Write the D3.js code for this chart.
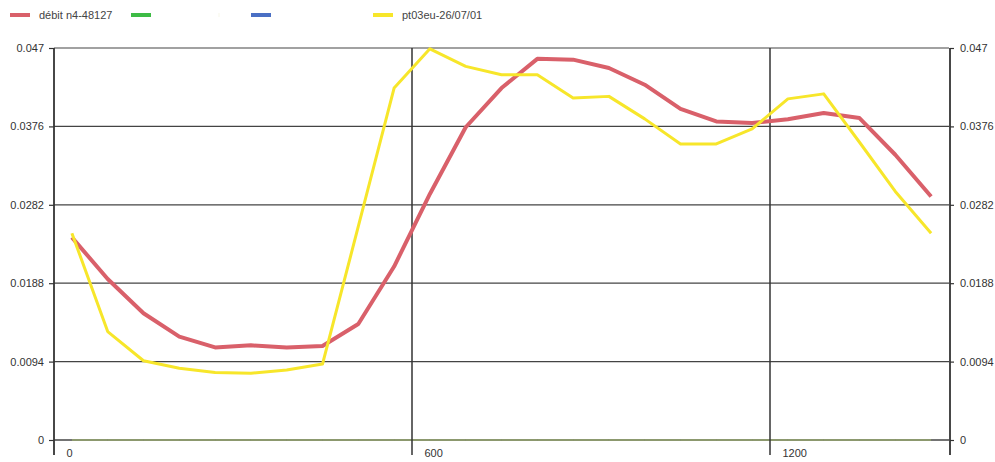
<!DOCTYPE html>
<html><head><meta charset="utf-8">
<script src="https://cdn.jsdelivr.net/npm/d3@7"></script>
<style>
body{margin:0;background:#fff;}
text{font-family:"Liberation Sans",Arial,sans-serif;}
</style></head>
<body><svg id="c" width="995" height="462"></svg>
<script>
const times = [30,90,150,210,270,330,390,450,510,570,630,690,750,810,870,930,990,1050,1110,1170,1230,1290,1350,1410,1470];
const debit = [0.0243,0.0193,0.0152,0.0124,0.0111,0.01135,0.0111,0.01127,0.0139,0.0208,0.0295,0.0375,0.0422,0.0457,0.0456,0.0446,0.0426,0.0397,0.0382,0.0380,0.03845,0.0392,0.0386,0.0342,0.0292];
const pt03eu = [0.0248,0.0130,0.0095,0.0086,0.0081,0.0080,0.0084,0.0091,0.0256,0.0422,0.0469,0.0448,0.0438,0.0438,0.0410,0.0412,0.0385,0.0355,0.0355,0.0373,0.0409,0.0415,0.0357,0.0298,0.0248];
const zeros = [0,0,0,0,0,0,0,0,0,0,0,0,0,0,0,0,0,0,0,0,0,0,0,0,0];
const seriesNames = ["débit n4-48127","","","","pt03eu-26/07/01"];
const seriesColors = ["#d9606a","#3dbb45","#fbfbf4","#4a6fc4","#f7e62a"];
const yTicks = [0,0.0094,0.0188,0.0282,0.0376,0.047];
const yTickLabels = ["0","0.0094","0.0188","0.0282","0.0376","0.047"];
const xTicks = [0,600,1200];
const xTickLabels = ["0","600","1200"];
const xDomain = [0,1500];

const svg = d3.select("#c");
const x = d3.scaleLinear().domain(xDomain).range([54,949]);
const y = d3.scaleLinear().domain([0,0.047]).range([440,48]);
const axisCol = "#333";

const line = d3.line().x((d,i)=>x(times[i])).y(d=>y(d));

// horizontal gridlines
svg.append("g").selectAll("line").data(yTicks).join("line")
  .attr("x1",x(0)).attr("x2",x(1500)).attr("y1",d=>y(d)).attr("y2",d=>y(d))
  .attr("stroke","#444").attr("stroke-width",d=>d===0?1.6:1.2);
// zero-valued series (over the zero line, faint)
[1,2,3].forEach(k=>{
  svg.append("path").datum(zeros).attr("d",line).attr("fill","none")
    .attr("stroke",k===1?"#b8d84a":seriesColors[k]).attr("stroke-width",1).attr("opacity",k===1?0.7:0.1);
});
// vertical gridlines
svg.append("g").selectAll("line").data(xTicks.filter(d=>d>0)).join("line")
  .attr("x1",d=>x(d)).attr("x2",d=>x(d)).attr("y1",y(0.047)).attr("y2",y(0)+15)
  .attr("stroke","#333").attr("stroke-width",1.5);

// left axis
const la = svg.append("g").attr("transform",`translate(${x(0)},0)`)
  .call(d3.axisLeft(y).tickValues(yTicks).tickFormat((d,i)=>yTickLabels[i]).tickSize(5).tickPadding(5));
la.select(".domain").remove();
la.append("line").attr("x1",0).attr("x2",0).attr("y1",y(0.047)).attr("y2",y(0)+15).attr("stroke",axisCol).attr("stroke-width",1.8);
// right axis
const ra = svg.append("g").attr("transform",`translate(${x(1500)+1},0)`)
  .call(d3.axisRight(y).tickValues(yTicks).tickFormat((d,i)=>yTickLabels[i]).tickSize(4).tickPadding(6));
ra.select(".domain").remove();
ra.append("line").attr("x1",0).attr("x2",0).attr("y1",y(0.047)).attr("y2",y(0)+15).attr("stroke",axisCol).attr("stroke-width",1.8);
// bottom axis
const ba = svg.append("g").attr("transform",`translate(0,${y(0)})`)
  .call(d3.axisBottom(x).tickValues(xTicks).tickFormat((d,i)=>xTickLabels[i]).tickSize(0).tickPadding(0));
ba.select(".domain").remove();
ba.selectAll("text").attr("text-anchor","start").attr("dx",12).attr("dy",17);
[la,ra,ba].forEach(g=>{
  g.selectAll(".tick line").attr("stroke",axisCol).attr("stroke-width",1.2);
  g.selectAll("text").attr("fill","#333").style("font-size","11px").style("font-family","'Liberation Sans',Arial,sans-serif");
});
ba.selectAll(".tick line").remove();

svg.append("path").datum(debit).attr("d",line).attr("fill","none")
  .attr("stroke",seriesColors[0]).attr("stroke-width",4).attr("stroke-linejoin","round");
svg.append("path").datum(pt03eu).attr("d",line).attr("fill","none")
  .attr("stroke",seriesColors[4]).attr("stroke-width",3).attr("stroke-linejoin","round");

// legend
const legX = [10,131,218,251,373];
const leg = svg.append("g");
seriesNames.forEach((n,i)=>{
  leg.append("rect").attr("x",legX[i]).attr("y",13).attr("width",i===2?2:20).attr("height",4).attr("fill",seriesColors[i]);
  if(n) leg.append("text").attr("x",legX[i]+29).attr("y",19).text(n)
    .attr("fill","#444").style("font-size","11px");
});
</script></body></html>
